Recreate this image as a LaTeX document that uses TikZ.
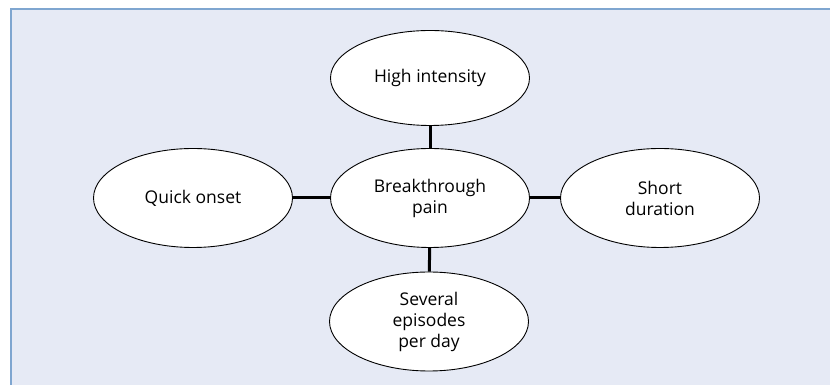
\documentclass[tikz,border=0pt]{standalone}
\usepackage{fontspec}
\setmainfont{Open Sans}
\usepackage{xcolor}
\usetikzlibrary{shapes}
\definecolor{panelbg}{HTML}{E6EAF5}
\definecolor{panelrule}{HTML}{7FA6D0}
\tikzset{ feature/.style = {ellipse, draw, fill=white, line width=0.9pt, align=center, minimum width=199pt, minimum height=99pt, inner sep=0pt, font=\fontsize{17.5}{21}\selectfont} }
\tikzset{ link/.style = {line width=3pt} }

\begin{document}
\begin{tikzpicture}[x=1pt, y=1pt]
                        \useasboundingbox (0, 0) rectangle (830, 385);
                        \draw[panelrule, fill=panelbg, line width=2pt] (10.5, -20) rectangle (860, 375.5);
                        \node[feature] (0) at (430, 187) {Breakthrough\\pain};
                        \node[feature, minimum height=95pt] (1) at (430, 307) {High intensity};
                        \node[feature] (2) at (193, 187) {Quick onset};
                        \node[feature] (3) at (660, 187) {Short\\duration};
                        \node[feature] (4) at (429, 63.5) {Several\\episodes\\per day};
                        \draw[link] (0) to (1);
                        \draw[link] (0) to (2);
                        \draw[link] (0) to (3);
                        \draw[link] (0) to (4);
                \end{tikzpicture}
\end{document}
